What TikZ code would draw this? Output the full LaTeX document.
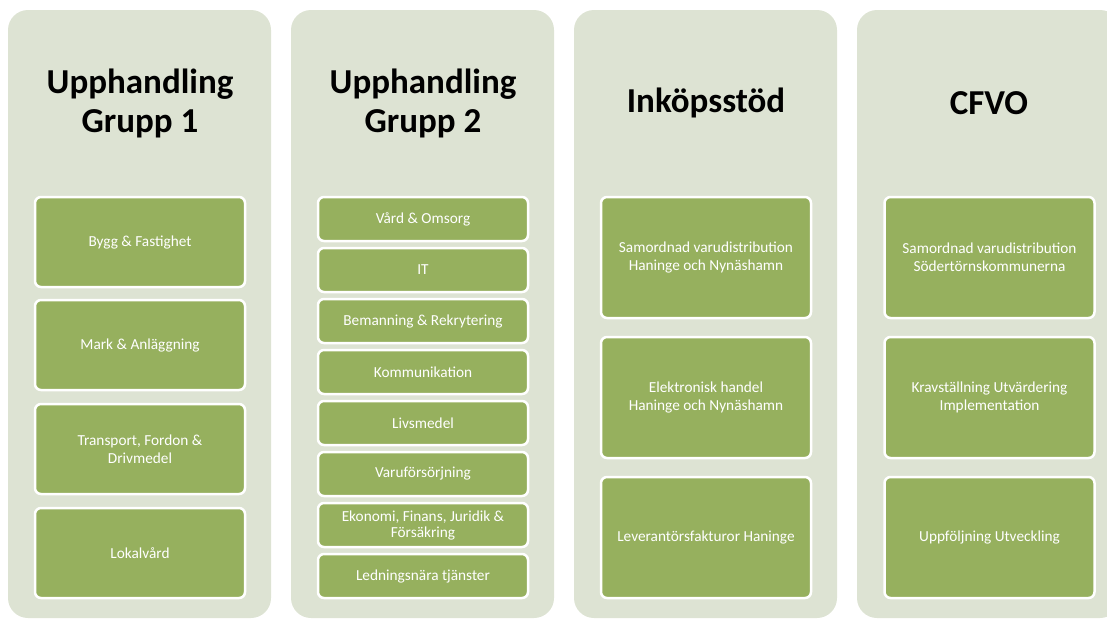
\documentclass[tikz,border=0pt]{standalone}
\usepackage{fontspec}
\setmainfont{Carlito}
\usetikzlibrary{positioning}
\definecolor{panelcolor}{RGB}{221,227,211}
\definecolor{itemcolor}{RGB}{150,176,94}

\begin{document}
\begin{tikzpicture}[x=1pt,y=-1pt]
  % Styles for columns and boxes
  \tikzset{
    panel/.style={rectangle, fill=panelcolor, rounded corners=20pt, minimum width=263pt, minimum height=608pt, inner sep=0pt},
    heading/.style={align=center, text=black, font=\fontsize{35}{39}\selectfont\bfseries},
    item/.style={rectangle, draw=white, line width=2.5pt, fill=itemcolor, rounded corners=6pt, minimum width=210pt, text=white, align=center, font=\fontsize{15.3}{18}\selectfont},
    big/.style={item, minimum height=90pt},
    small/.style={item, minimum height=44pt, inner sep=1pt, font=\fontsize{15.3}{16}\selectfont},
    tall/.style={item, minimum height=121pt}
  }
  \useasboundingbox (0,0) rectangle (1107,621);
  \clip (0,0) rectangle (1107,621);

  % Columns
  \node[panel] (col1) at (139.5,314) {};
  \node[panel] (col2) at (422.5,314) {};
  \node[panel] (col3) at (705.5,314) {};
  \node[panel] (col4) at (988.5,314) {};

  % Headings
  \node[heading] (head1) at (140,103) {Upphandling\\Grupp 1};
  \node[heading] (head2) at (423,103) {Upphandling\\Grupp 2};
  \node[heading] (head3) at (706,103) {Inköpsstöd};
  \node[heading] (head4) at (989,103) {CFVO};

  % Upphandling Grupp 1
  \node[big] (bygg) at (140,242) {Bygg \& Fastighet};
  \node[big] (mark) at (140,345) {Mark \& Anläggning};
  \node[big] (transport) at (140,449) {Transport, Fordon \&\\Drivmedel};
  \node[big] (lokal) at (140,553) {Lokalvård};

  % Upphandling Grupp 2
  \node[small] (vard) at (423,219) {Vård \& Omsorg};
  \node[small] (it) at (423,270) {IT};
  \node[small] (bemanning) at (423,321) {Bemanning \& Rekrytering};
  \node[small] (kommunikation) at (423,372) {Kommunikation};
  \node[small] (livsmedel) at (423,423) {Livsmedel};
  \node[small] (varu) at (423,474) {Varuförsörjning};
  \node[small] (ekonomi) at (423,525) {Ekonomi, Finans, Juridik \&\\Försäkring};
  \node[small] (ledning) at (423,576) {Ledningsnära tjänster};

  % Inköpsstöd
  \node[tall] (samordnad1) at (706,257.5) {Samordnad varudistribution\\Haninge och Nynäshamn};
  \node[tall] (handel) at (706,397.5) {Elektronisk handel\\Haninge och Nynäshamn};
  \node[tall] (fakturor) at (706,537.5) {Leverantörsfakturor Haninge};

  % CFVO
  \node[tall] (samordnad2) at (989.5,257.5) {Samordnad varudistribution\\Södertörnskommunerna};
  \node[tall] (krav) at (989.5,397.5) {Kravställning Utvärdering\\Implementation};
  \node[tall] (uppfoljning) at (989.5,537.5) {Uppföljning Utveckling};
\end{tikzpicture}
\end{document}
